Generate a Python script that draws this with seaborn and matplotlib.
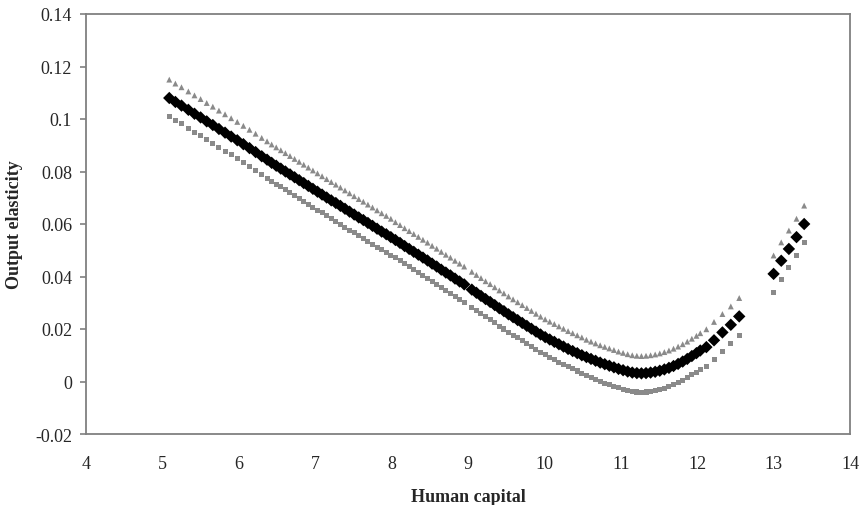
import matplotlib
matplotlib.use("Agg")
import matplotlib.pyplot as plt
import seaborn as sns
import pandas as pd

# Human capital values (x)
human_capital = [
    5.09, 5.17, 5.25, 5.34, 5.42, 5.50, 5.58, 5.66, 5.74, 5.82,
    5.90, 5.98, 6.06, 6.14, 6.22, 6.30, 6.37, 6.43, 6.49, 6.55,
    6.61, 6.67, 6.73, 6.79, 6.85, 6.91, 6.97, 7.03, 7.09, 7.15,
    7.21, 7.27, 7.33, 7.39, 7.45, 7.51, 7.57, 7.63, 7.69, 7.75,
    7.81, 7.87, 7.93, 7.99, 8.05, 8.11, 8.17, 8.23, 8.29, 8.35,
    8.41, 8.47, 8.53, 8.59, 8.65, 8.71, 8.77, 8.83, 8.89, 8.95,
    9.05, 9.11, 9.17, 9.23, 9.29, 9.35, 9.41, 9.47, 9.53, 9.59,
    9.65, 9.71, 9.77, 9.83, 9.89, 9.95, 10.01, 10.07, 10.13, 10.19,
    10.25, 10.31, 10.37, 10.43, 10.49, 10.55, 10.61, 10.67, 10.73, 10.79,
    10.85, 10.91, 10.97, 11.03, 11.09, 11.15, 11.21, 11.27, 11.33, 11.39,
    11.45, 11.51, 11.57, 11.63, 11.69, 11.75, 11.81, 11.87, 11.93, 11.99,
    12.04, 12.12, 12.22, 12.33, 12.44, 12.55,
    13.0, 13.1, 13.2, 13.3, 13.4,
]

# Estimated output elasticity (black diamonds)
elasticity = [
    0.1080, 0.1065, 0.1051, 0.1035, 0.1020, 0.1006, 0.0991, 0.0977, 0.0962, 0.0948,
    0.0933, 0.0919, 0.0904, 0.0889, 0.0874, 0.0858, 0.0845, 0.0833, 0.0822, 0.0811,
    0.0800, 0.0789, 0.0778, 0.0767, 0.0756, 0.0745, 0.0734, 0.0723, 0.0712, 0.0701,
    0.0690, 0.0680, 0.0669, 0.0658, 0.0647, 0.0636, 0.0625, 0.0615, 0.0604, 0.0593,
    0.0582, 0.0571, 0.0561, 0.0550, 0.0539, 0.0528, 0.0516, 0.0505, 0.0494, 0.0483,
    0.0472, 0.0461, 0.0449, 0.0438, 0.0426, 0.0415, 0.0404, 0.0392, 0.0381, 0.0370,
    0.0350, 0.0338, 0.0326, 0.0314, 0.0303, 0.0291, 0.0279, 0.0268, 0.0256, 0.0245,
    0.0234, 0.0223, 0.0212, 0.0201, 0.0190, 0.0179, 0.0169, 0.0160, 0.0151, 0.0142,
    0.0133, 0.0124, 0.0116, 0.0108, 0.0100, 0.0093, 0.0086, 0.0079, 0.0072, 0.0066,
    0.0060, 0.0054, 0.0048, 0.0043, 0.0038, 0.0034, 0.0032, 0.0031, 0.0032, 0.0034,
    0.0037, 0.0041, 0.0046, 0.0052, 0.0059, 0.0067, 0.0076, 0.0086, 0.0097, 0.0108,
    0.0118, 0.0131, 0.0157, 0.0187, 0.0216, 0.0248,
    0.0410, 0.0460, 0.0505, 0.0550, 0.0600,
]

# Upper bound (grey triangles)
upper = [
    0.1150, 0.1135, 0.1121, 0.1105, 0.1090, 0.1076, 0.1061, 0.1047, 0.1032, 0.1018,
    0.1003, 0.0989, 0.0974, 0.0959, 0.0944, 0.0928, 0.0915, 0.0903, 0.0892, 0.0881,
    0.0870, 0.0859, 0.0848, 0.0837, 0.0826, 0.0815, 0.0804, 0.0793, 0.0782, 0.0771,
    0.0760, 0.0750, 0.0739, 0.0728, 0.0717, 0.0706, 0.0695, 0.0685, 0.0674, 0.0663,
    0.0652, 0.0641, 0.0631, 0.0620, 0.0607, 0.0596, 0.0584, 0.0573, 0.0562, 0.0551,
    0.0540, 0.0529, 0.0517, 0.0506, 0.0494, 0.0483, 0.0472, 0.0460, 0.0449, 0.0438,
    0.0418, 0.0406, 0.0394, 0.0382, 0.0371, 0.0359, 0.0347, 0.0336, 0.0324, 0.0313,
    0.0302, 0.0291, 0.0280, 0.0269, 0.0258, 0.0247, 0.0237, 0.0228, 0.0219, 0.0210,
    0.0201, 0.0192, 0.0184, 0.0176, 0.0168, 0.0159, 0.0152, 0.0145, 0.0138, 0.0132,
    0.0126, 0.0120, 0.0114, 0.0109, 0.0104, 0.0100, 0.0098, 0.0097, 0.0098, 0.0100,
    0.0103, 0.0107, 0.0112, 0.0118, 0.0125, 0.0133, 0.0142, 0.0152, 0.0163, 0.0174,
    0.0184, 0.0199, 0.0227, 0.0257, 0.0286, 0.0318,
    0.0480, 0.0530, 0.0575, 0.0620, 0.0670,
]

# Lower bound (grey squares)
lower = [
    0.1010, 0.0995, 0.0981, 0.0965, 0.0950, 0.0936, 0.0921, 0.0907, 0.0892, 0.0878,
    0.0863, 0.0849, 0.0834, 0.0819, 0.0804, 0.0788, 0.0775, 0.0763, 0.0752, 0.0741,
    0.0730, 0.0719, 0.0708, 0.0697, 0.0686, 0.0675, 0.0664, 0.0653, 0.0642, 0.0631,
    0.0620, 0.0610, 0.0599, 0.0588, 0.0577, 0.0566, 0.0555, 0.0545, 0.0534, 0.0523,
    0.0512, 0.0501, 0.0491, 0.0480, 0.0471, 0.0460, 0.0448, 0.0437, 0.0426, 0.0415,
    0.0404, 0.0393, 0.0381, 0.0370, 0.0358, 0.0347, 0.0336, 0.0324, 0.0313, 0.0302,
    0.0282, 0.0270, 0.0258, 0.0246, 0.0235, 0.0223, 0.0211, 0.0200, 0.0188, 0.0177,
    0.0166, 0.0155, 0.0144, 0.0133, 0.0122, 0.0111, 0.0101, 0.0092, 0.0083, 0.0074,
    0.0065, 0.0056, 0.0048, 0.0040, 0.0032, 0.0021, 0.0014, 0.0007, 0.0000, -0.0006,
    -0.0012, -0.0018, -0.0024, -0.0029, -0.0034, -0.0038, -0.0040, -0.0041, -0.0040, -0.0038,
    -0.0035, -0.0031, -0.0026, -0.0020, -0.0013, -0.0005, 0.0004, 0.0014, 0.0025, 0.0036,
    0.0046, 0.0059, 0.0085, 0.0115, 0.0144, 0.0176,
    0.0340, 0.0390, 0.0435, 0.0480, 0.0530,
]

x_ticks = [4, 5, 6, 7, 8, 9, 10, 11, 12, 13, 14]
y_ticks = [-0.02, 0, 0.02, 0.04, 0.06, 0.08, 0.1, 0.12, 0.14]
y_tick_labels = ["-0.02", "0", "0.02", "0.04", "0.06", "0.08", "0.1", "0.12", "0.14"]

df = pd.DataFrame({"hc": human_capital, "mid": elasticity, "up": upper, "lo": lower})

sns.set_theme(style="white")
plt.rcParams["font.family"] = ["Liberation Serif", "DejaVu Serif"]

fig = plt.figure(figsize=(8.61, 5.06), dpi=100)
ax = fig.add_axes([86 / 861, 1 - 435 / 506, (850 - 86) / 861, (435 - 15) / 506])

grey = "#8a8a8a"
sns.scatterplot(data=df, x="hc", y="up", marker="^", s=18, color=grey,
                edgecolor="none", linewidth=0, ax=ax, legend=False)
sns.scatterplot(data=df, x="hc", y="lo", marker="s", s=13, color=grey,
                edgecolor="none", linewidth=0, ax=ax, legend=False)
sns.scatterplot(data=df, x="hc", y="mid", marker="D", s=40, color="black",
                edgecolor="none", linewidth=0, ax=ax, legend=False)

ax.set_xlim(4, 14)
ax.set_ylim(-0.02, 0.14)
ax.set_xticks(x_ticks)
ax.set_xticklabels([str(t) for t in x_ticks])
ax.set_yticks(y_ticks)
ax.set_yticklabels(y_tick_labels)

for sp in ax.spines.values():
    sp.set_visible(True)
    sp.set_color("#808080")
    sp.set_linewidth(1.3)

ax.tick_params(axis="y", which="major", left=True, length=4, width=1.2,
               color="#808080", labelsize=13, pad=6, direction="out")
ax.tick_params(axis="x", which="major", bottom=False, length=0,
               labelsize=13, pad=15)

ax.set_xlabel("Human capital", fontsize=13, fontweight="bold", labelpad=12)
ax.set_ylabel("Output elasticity", fontsize=13, fontweight="bold", labelpad=9)

fig.savefig("out.png", dpi=100)
